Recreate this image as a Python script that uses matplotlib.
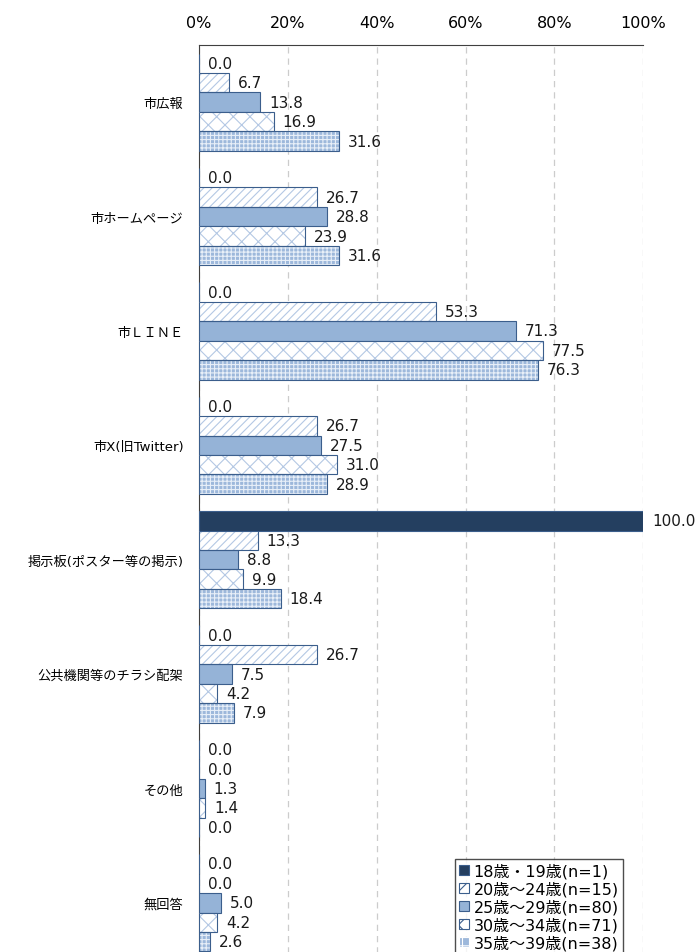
import numpy as np
import matplotlib
matplotlib.use("Agg")
import matplotlib.pyplot as plt
from matplotlib.patches import Patch

plt.rcParams['font.family'] = ['DejaVu Sans', 'Noto Sans CJK JP']
plt.rcParams['hatch.linewidth'] = 0.8

categories = ["市広報", "市ホームページ", "市ＬＩＮＥ", "市X(旧Twitter)",
              "掲示板(ポスター等の掲示)", "公共機関等のチラシ配架", "その他", "無回答"]
groups = ["18歳・19歳(n=1)", "20歳～24歳(n=15)", "25歳～29歳(n=80)",
          "30歳～34歳(n=71)", "35歳～39歳(n=38)"]
age_18_19 = [0.0, 0.0, 0.0, 0.0, 100.0, 0.0, 0.0, 0.0]
age_20_24 = [6.7, 26.7, 53.3, 26.7, 13.3, 26.7, 0.0, 0.0]
age_25_29 = [13.8, 28.8, 71.3, 27.5, 8.8, 7.5, 1.3, 5.0]
age_30_34 = [16.9, 23.9, 77.5, 31.0, 9.9, 4.2, 1.4, 4.2]
age_35_39 = [31.6, 31.6, 76.3, 28.9, 18.4, 7.9, 0.0, 2.6]
series = [age_18_19, age_20_24, age_25_29, age_30_34, age_35_39]

edge = "#3B5E8C"
light = "#95B3D7"
# (facecolor, hatch, hatch colour)
styles = [("#243F60", None, None),
          ("white", "////", "#B4C8E4"),
          (light, None, None),
          ("white", "xx", "#B4C8E4"),
          ("#9DB8DB", "++++", "#E8EFF8")]

fig = plt.figure(figsize=(7, 9.53), dpi=100)
ax = fig.add_axes([0.284, -0.0084, 0.635, 0.9601])

n = len(categories)
y = np.arange(n)
bh = 0.17
for k, vals in enumerate(series):
    pos = y - 2 * bh + k * bh
    fc, hatch, hc = styles[k]
    if hatch is None:
        ax.barh(pos, vals, height=bh, color=fc, edgecolor=edge, linewidth=0.8, zorder=3)
    else:
        ax.barh(pos, vals, height=bh, color=fc, edgecolor=hc, hatch=hatch, linewidth=0, zorder=3)
        ax.barh(pos, vals, height=bh, color="none", edgecolor=edge, linewidth=0.8, zorder=4)
    for p, v in zip(pos, vals):
        ax.text(v + 2.0, p, f"{v:.1f}", va="center", ha="left", fontsize=11, color="#1a1a1a", zorder=5)

ax.set_xlim(0, 100)
ax.set_ylim(n - 0.5, -0.5)
ax.set_yticks(y)
ax.set_yticklabels(categories, fontsize=9.5)
ax.set_xticks(np.arange(0, 101, 20))
ax.set_xticklabels([f"{t}%" for t in range(0, 101, 20)], fontsize=11.5)
ax.xaxis.tick_top()
ax.tick_params(axis="x", length=0, pad=11)
ax.tick_params(axis="y", length=0, pad=11)
ax.grid(axis="x", color="#cccccc", linestyle=(0, (5, 4)), linewidth=0.9, zorder=0)
for s in ["right", "bottom"]:
    ax.spines[s].set_visible(False)
ax.spines["left"].set_color("#404040")
ax.spines["top"].set_color("#404040")

handles = []
for k in range(len(groups)):
    fc, hatch, hc = styles[k]
    if hatch is None:
        handles.append(Patch(facecolor=fc, edgecolor=edge, linewidth=0.8))
    else:
        handles.append(Patch(facecolor=fc, edgecolor=edge if k != 4 else "white", hatch=hatch[:2], linewidth=0.8))
leg = ax.legend(handles, groups, loc="upper left", bbox_to_anchor=(0.577, 0.11),
                fontsize=11.5, frameon=True, fancybox=False, handlelength=0.6, handleheight=0.6,
                handletextpad=0.3, labelspacing=0.15, borderpad=0.25, borderaxespad=0)
leg.get_frame().set_edgecolor("#202020")
leg.get_frame().set_linewidth(1.0)

fig.savefig("out.png", dpi=100)
